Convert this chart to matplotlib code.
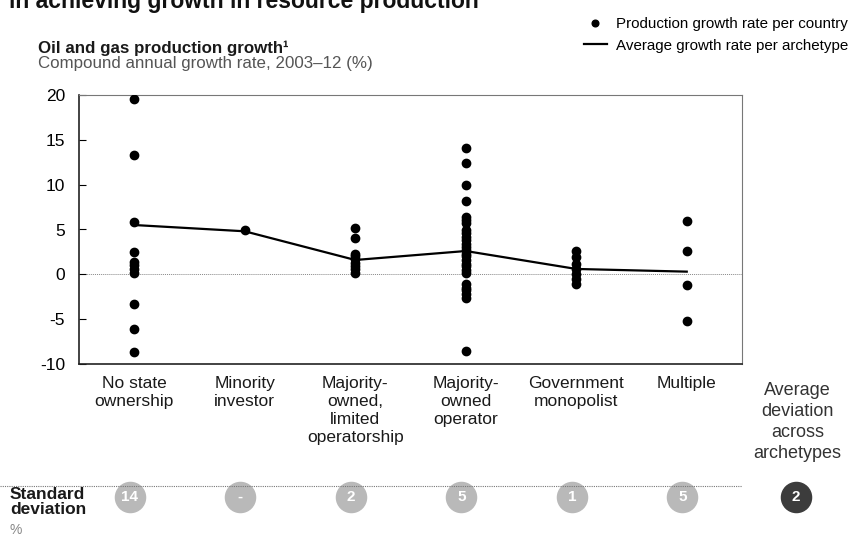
import numpy as np
import matplotlib
matplotlib.use("Agg")
import matplotlib.pyplot as plt
from matplotlib.lines import Line2D
from matplotlib.transforms import blended_transform_factory

plt.rcParams['font.family'] = ['Liberation Sans', 'DejaVu Sans']
plt.rcParams['axes.unicode_minus'] = False

# archetypes and per-country growth rates (CAGR 2003-12, %)
categories = ["No state\nownership", "Minority\ninvestor",
              "Majority-\nowned,\nlimited\noperatorship",
              "Majority-\nowned\noperator", "Government\nmonopolist", "Multiple"]
country_growth = [
    [19.6, 13.3, 5.8, 2.5, 1.4, 1.0, 0.6, 0.2, -3.3, -6.1, -8.7],
    [4.9],
    [5.2, 4.0, 2.3, 2.0, 1.7, 1.3, 0.9, 0.6, 0.1],
    [14.1, 12.4, 10.0, 8.2, 6.4, 6.1, 5.7, 4.9, 4.6, 4.2, 3.8, 3.4, 3.1, 2.7,
     2.3, 2.0, 1.6, 1.2, 0.9, 0.5, 0.1, -1.1, -1.5, -1.8, -2.2, -2.6, -8.6],
    [2.6, 1.9, 1.1, 0.6, 0.0, -0.5, -1.1],
    [6.0, 2.6, -1.2, -5.2],
]
avg_growth = [5.5, 4.8, 1.6, 2.6, 0.6, 0.3]
std_dev = ["14", "-", "2", "5", "1", "5"]
avg_deviation = "2"

W, H = 850, 536
fig = plt.figure(figsize=(8.5, 5.36), dpi=100)
ax = fig.add_axes([79 / W, 1 - 364 / H, (742 - 79) / W, (364 - 95) / H])

x = np.arange(len(categories))
for i, vals in enumerate(country_growth):
    ax.plot([x[i]] * len(vals), vals, 'o', color='black', markersize=6,
            label="Production growth rate per country" if i == 0 else None,
            zorder=3)
ax.plot(x, avg_growth, '-', color='black', linewidth=1.6, zorder=4,
        label="Average growth rate per archetype")
ax.axhline(0, color='#888888', linewidth=0.7, linestyle=(0, (1, 1)), zorder=1)

ax.set_xlim(-0.5, 5.5)
ax.set_ylim(-10, 20)
ax.set_yticks([-10, -5, 0, 5, 10, 15, 20])
ax.set_xticks([])
ax.tick_params(axis='y', direction='in', length=5, width=0.8, labelsize=12.5,
               pad=10, colors='black')
for s in ['left', 'bottom']:
    ax.spines[s].set_color('#222222')
    ax.spines[s].set_linewidth(1.2)
for s in ['top', 'right']:
    ax.spines[s].set_color('#777777')
    ax.spines[s].set_linewidth(0.8)
    ax.spines[s].set_linestyle((0, (1, 1)))

# category labels under the axis
tr = blended_transform_factory(ax.transData, fig.transFigure)
for i, lab in enumerate(categories):
    ax.text(x[i], 1 - 376 / H, lab, transform=tr, ha='center', va='top',
            fontsize=12.5, color='#1a1a1a', linespacing=1.25)
ax.text(6, 1 - 382 / H, "Average\ndeviation\nacross\narchetypes", transform=tr,
        ha='center', va='top', fontsize=13, color='#333333', linespacing=1.32)

# standard deviation row
fig.add_artist(Line2D([0, 742 / W], [1 - 486 / H] * 2, color='#777777',
                      linewidth=0.8, linestyle=(0, (1, 1))))
fig.text(10 / W, 1 - 487 / H, "Standard\ndeviation", ha='left', va='top',
         fontsize=12.5, fontweight='bold', color='#1a1a1a', linespacing=0.98)
fig.text(10 / W, 1 - 530 / H, "%", ha='left', va='center', fontsize=10,
         color='#888888')
ax.scatter(x - 0.04, [1 - 497 / H] * len(x), s=470, color='#b9b9b9',
           transform=tr, clip_on=False, zorder=5)
ax.scatter([5.99], [1 - 497 / H], s=470, color='#3c3c3c', transform=tr,
           clip_on=False, zorder=5)
for i, v in enumerate(std_dev):
    ax.text(x[i] - 0.04, 1 - 497 / H, v, transform=tr, ha='center',
            va='center', fontsize=11, fontweight='bold', color='white',
            zorder=6)
ax.text(5.99, 1 - 497 / H, avg_deviation, transform=tr, ha='center',
        va='center', fontsize=11, fontweight='bold', color='white', zorder=6)

# titles (top line is cropped in the reference)
fig.text(9 / W, 1 - 8 / H, "in achieving growth in resource production",
         ha='left', va='baseline', fontsize=16.5, fontweight='bold',
         color='#111111')
fig.text(38 / W, 1 - 53 / H, "Oil and gas production growth\u00b9",
         ha='left', va='baseline', fontsize=12.2, fontweight='bold',
         color='#1a1a1a')
fig.text(38 / W, 1 - 68 / H, "Compound annual growth rate, 2003\u201312 (%)",
         ha='left', va='baseline', fontsize=12.2, color='#555555')

fig.legend(loc='upper right', bbox_to_anchor=(848 / W, 1 - 17 / H),
           frameon=False, fontsize=10.9, handlelength=1.5, handletextpad=0.6,
           labelspacing=0.5, borderaxespad=0, borderpad=0, numpoints=1,
           markerscale=0.8)

fig.savefig("out.png", dpi=100)
